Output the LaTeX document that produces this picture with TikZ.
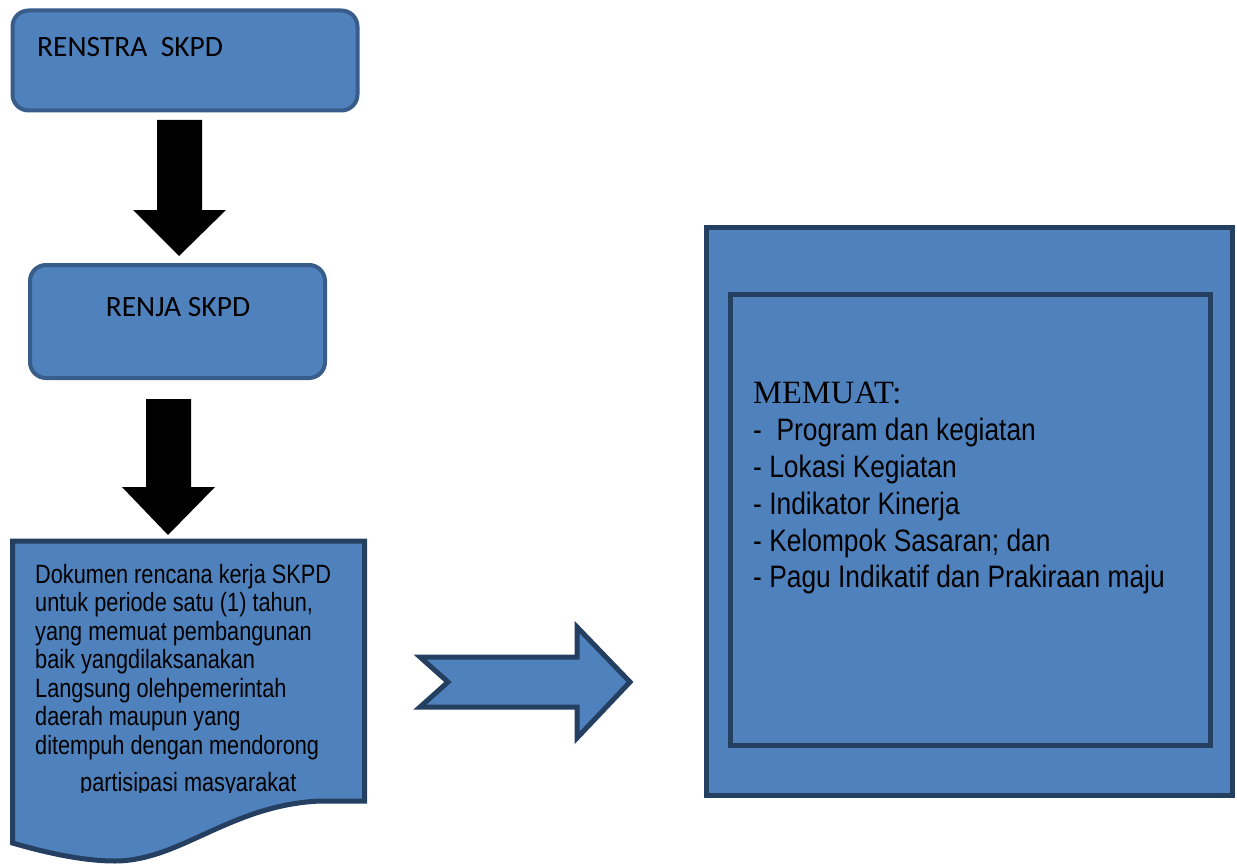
\documentclass[tikz,border=0pt]{standalone}
\usepackage{fontspec}
\setmainfont{Liberation Sans}
\newfontfamily\narrowf[FakeStretch=0.82]{Liberation Sans}
\newfontfamily\narrowg[FakeStretch=0.85]{Liberation Sans}
\newfontfamily\calib{Carlito}
\newfontfamily\timesf{Liberation Serif}
\definecolor{fillblue}{HTML}{4F81BD}
\definecolor{lineblue}{HTML}{385D8A}
\definecolor{darkblue}{HTML}{243F60}
\tikzset{
  rbox/.style={draw=lineblue, fill=fillblue, line width=4pt, rounded corners=16pt},
  sqbox/.style={draw=darkblue, fill=fillblue, line width=5pt, line join=miter},
  blockarrow/.style={fill=black},
  bluearrow/.style={draw=darkblue, fill=fillblue, line width=5pt, line join=miter},
  doctext/.style={anchor=base west, inner sep=0pt, font=\narrowf\fontsize{26.5}{28.5}\selectfont},
  listtext/.style={anchor=base west, inner sep=0pt, font=\narrowg\fontsize{31}{36}\selectfont},
  boxlabel/.style={inner sep=0pt, font=\calib\fontsize{29.5}{34}\selectfont}
}
\begin{document}
\begin{tikzpicture}[x=1pt,y=-1pt]
\useasboundingbox (0,0) rectangle (1237,864);

% RENSTRA box
\draw[rbox] (12.5,10.5) rectangle (357.5,110.5);
\node[boxlabel, anchor=west] (renstra) at (37,47) {RENSTRA\ \ SKPD};

% black arrow 1
\fill[blockarrow] (157,120) -- (202,120) -- (202,210) -- (226,210) -- (179,256) -- (133,210) -- (157,210) -- cycle;

% RENJA box
\draw[rbox] (30,265) rectangle (325,378);
\node[boxlabel] (renja) at (178,307) {RENJA SKPD};

% black arrow 2
\fill[blockarrow] (146,399) -- (191,399) -- (191,487) -- (215,487) -- (168,535) -- (122,487) -- (146,487) -- cycle;

% document shape
\draw[sqbox] (12.5,541) -- (364.5,541) -- (364.5,801) -- (320,801)
  .. controls (230,805) and (180,861) .. (115,861)
  .. controls (80,861) and (40,851) .. (12.5,843) -- cycle;
\node[doctext] (d1) at (35,583) {Dokumen rencana kerja SKPD};
\node[doctext] (d2) at (35,611.5) {untuk periode satu (1) tahun,};
\node[doctext] (d3) at (35,640) {yang memuat pembangunan};
\node[doctext] (d4) at (35,668.5) {baik yangdilaksanakan};
\node[doctext] (d5) at (35,697) {Langsung olehpemerintah};
\node[doctext] (d6) at (35,725.5) {daerah maupun yang};
\node[doctext] (d7) at (35,754) {ditempuh dengan mendorong};
\begin{scope}
\clip (0,0) rectangle (1237,792.5);
\node[doctext] (d8) at (80,791) {partisipasi masyarakat};
\end{scope}

% blue arrow
\draw[bluearrow] (420,657) -- (577,657) -- (577,627) -- (630,682) -- (577,738) -- (577,707) -- (420,707) -- (448,682) -- cycle;

% outer and inner boxes
\draw[sqbox] (706.5,227.5) rectangle (1232.5,795.5);
\draw[sqbox] (730,294) rectangle (1210,745.5);

\node[anchor=base west, inner sep=0pt, font=\timesf\fontsize{32.5}{36}\selectfont] (memuat) at (753,403) {MEMUAT:};
\node[listtext] (l1) at (753,440) {-\ \ Program dan kegiatan};
\node[listtext] (l2) at (753,477) {- Lokasi Kegiatan};
\node[listtext] (l3) at (753,514) {- Indikator Kinerja};
\node[listtext] (l4) at (753,551) {- Kelompok Sasaran; dan};
\node[listtext] (l5) at (753,587) {- Pagu Indikatif dan Prakiraan maju};
\end{tikzpicture}
\end{document}
